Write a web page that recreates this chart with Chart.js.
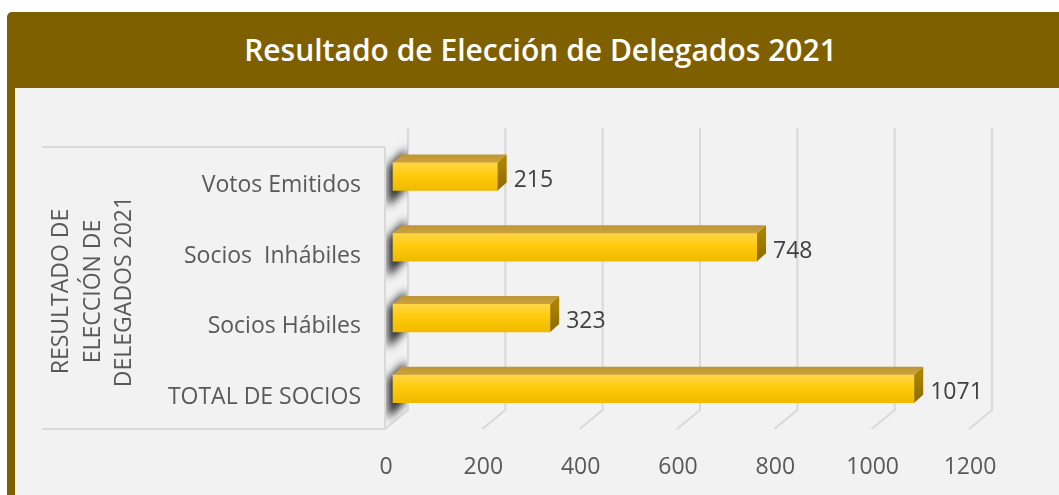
<!DOCTYPE html>
<html>
<head>
<meta charset="utf-8">
<script src="https://cdn.jsdelivr.net/npm/chart.js@4"></script>
<style>
  body { margin: 0; background: #fff; width: 1059px; height: 495px; overflow: hidden; position: relative; font-family: "Open Sans", sans-serif; }
  #frame { position: absolute; left: 7px; top: 12px; width: 1100px; height: 520px; background: #7f6000; border-radius: 5px; }
  #title { position: absolute; left: 0; top: 12px; width: 1081px; height: 76px; line-height: 76px; text-align: center; color: #fff; font-size: 30px; font-weight: 600; }
  #box { position: absolute; left: 15px; top: 88px; width: 1044px; height: 407px; background: #f2f2f2; }
</style>
</head>
<body>
<div id="frame"></div>
<div id="title">Resultado de Elección de Delegados 2021</div>
<div id="box"><canvas id="barChart"></canvas></div>
<script>
// Chart data
var categories = ['Votos Emitidos', 'Socios  Inhábiles', 'Socios Hábiles', 'TOTAL DE SOCIOS'];
var delegados = [215, 748, 323, 1071];
var xTicks = [0, 200, 400, 600, 800, 1000, 1200];
var axisTitle = ['RESULTADO DE', 'ELECCIÓN DE', 'DELEGADOS 2021'];

// fake 3D look
var depth = { dx: 23, dy: -19 };     // front plane -> back wall
var barShift = { dx: 7, dy: -9 };    // bars sit a bit behind the front plane
var barDepth = { dx: 9, dy: -8 };
var gridColor = '#d9d9d9';
var textColor = '#595959';
var font23 = { family: 'Open Sans', size: 23 };

function poly(ctx, pts) {
    ctx.beginPath();
    ctx.moveTo(pts[0][0], pts[0][1]);
    for (var i = 1; i < pts.length; i++) ctx.lineTo(pts[i][0], pts[i][1]);
    ctx.closePath();
}

var box3d = {
    id: 'box3d',
    beforeDatasetsDraw: function (chart) {
        var ctx = chart.ctx, ca = chart.chartArea, x = chart.scales.x;
        var fTop = ca.top - 3, fBot = ca.bottom - 4;
        var x0 = x.getPixelForValue(0) - 1;

        ctx.save();
        ctx.strokeStyle = gridColor;
        ctx.lineWidth = 2;
        // label box lines
        ctx.beginPath();
        ctx.moveTo(27, fTop); ctx.lineTo(x0, fTop);
        ctx.moveTo(27, fBot); ctx.lineTo(x0, fBot);
        ctx.moveTo(x0, fTop); ctx.lineTo(x0, fBot);
        ctx.stroke();
        // back wall + floor lines
        xTicks.forEach(function (v) {
            var fx = x.getPixelForValue(v) - 1;
            var bx = fx + depth.dx;
            ctx.beginPath();
            ctx.moveTo(bx, fTop + depth.dy);
            ctx.lineTo(bx, fBot + depth.dy);
            ctx.lineTo(fx, fBot);
            ctx.stroke();
        });

        // bar shadows on the left wall
        var meta = chart.getDatasetMeta(0);
        poly(ctx, [[x0 + 1, fTop], [x0 + depth.dx, fTop + depth.dy], [x0 + depth.dx - 1, fBot + depth.dy], [x0 + 1, fBot]]);
        ctx.clip();
        ctx.filter = 'blur(4px)';
        ctx.fillStyle = 'rgba(15,15,15,0.9)';
        meta.data.forEach(function (bar) {
            var top = bar.y - bar.height / 2 + barShift.dy;
            var bot = bar.y + bar.height / 2 + barShift.dy;
            poly(ctx, [[x0 + 3, top + 4], [x0 + depth.dx - 2, top - 14], [x0 + depth.dx - 2, bot - 2], [x0 + 3, bot + 16]]);
            ctx.fill();
        });
        ctx.restore();
    },
    beforeDatasetDraw: function (chart) {
        chart.ctx.save();
        chart.ctx.translate(barShift.dx, barShift.dy);
    },
    afterDatasetDraw: function (chart, args) {
        var ctx = chart.ctx;
        args.meta.data.forEach(function (bar, i) {
            var b = bar.base, e = bar.x;
            var top = bar.y - bar.height / 2, bot = bar.y + bar.height / 2;
            var dx = barDepth.dx, dy = barDepth.dy;
            // top face
            var tg = ctx.createLinearGradient(0, top + dy, 0, top);
            tg.addColorStop(0, '#bf9535');
            tg.addColorStop(1, '#cba23f');
            ctx.fillStyle = tg;
            poly(ctx, [[b, top], [e, top], [e + dx, top + dy], [b + dx, top + dy]]);
            ctx.fill();
            // side face
            var sg = ctx.createLinearGradient(0, top, 0, bot);
            sg.addColorStop(0, '#a98300');
            sg.addColorStop(1, '#8c6b00');
            ctx.fillStyle = sg;
            poly(ctx, [[e, top], [e + dx, top + dy], [e + dx, bot + dy], [e, bot]]);
            ctx.fill();
            // value label
            ctx.fillStyle = '#404040';
            ctx.font = '23px "Open Sans"';
            ctx.textAlign = 'left';
            ctx.textBaseline = 'middle';
            ctx.fillText(String(delegados[i]), e + 16, bar.y + 4);
        });
        ctx.restore();
    }
};

var barChart = new Chart(document.getElementById('barChart'), {
    type: 'bar',
    data: {
        labels: categories,
        datasets: [{
            label: 'Resultado de Elección de Delegados 2021',
            data: delegados,
            barThickness: 28,
            borderWidth: 0,
            clip: false,
            backgroundColor: function (c) {
                var y = c.chart.scales.y;
                var cy = y ? y.getPixelForValue(c.dataIndex) : NaN;
                if (!isFinite(cy)) return '#ffc800';
                var g = c.chart.ctx.createLinearGradient(0, cy - 14, 0, cy + 14);
                g.addColorStop(0, '#ffd649');
                g.addColorStop(0.45, '#ffcb0c');
                g.addColorStop(1, '#f0b900');
                return g;
            }
        }]
    },
    options: {
        indexAxis: 'y',
        responsive: true,
        maintainAspectRatio: false,
        animation: false,
        layout: { padding: { left: 0, top: 62, right: 89, bottom: 14 } },
        plugins: {
            legend: { display: false },
            tooltip: { enabled: false }
        },
        scales: {
            x: {
                min: 0,
                max: 1200,
                grid: { display: false, drawTicks: false },
                border: { display: false },
                ticks: {
                    color: textColor, font: font23, padding: 21, maxRotation: 0,
                    callback: function (v) { return String(v); }
                },
                afterBuildTicks: function (s) { s.ticks = xTicks.map(function (v) { return { value: v }; }); },
                afterFit: function (s) { s.height = 48; }
            },
            y: {
                grid: { display: false, drawTicks: false },
                border: { display: false },
                ticks: { color: textColor, font: font23, padding: 25 },
                title: {
                    display: true,
                    text: axisTitle,
                    color: textColor,
                    font: { family: 'Open Sans', size: 23, lineHeight: 1.37 },
                    padding: { top: 31, bottom: 0 }
                },
                afterFit: function (s) { s.width = 371; }
            }
        }
    },
    plugins: [box3d]
});
</script>
</body>
</html>
